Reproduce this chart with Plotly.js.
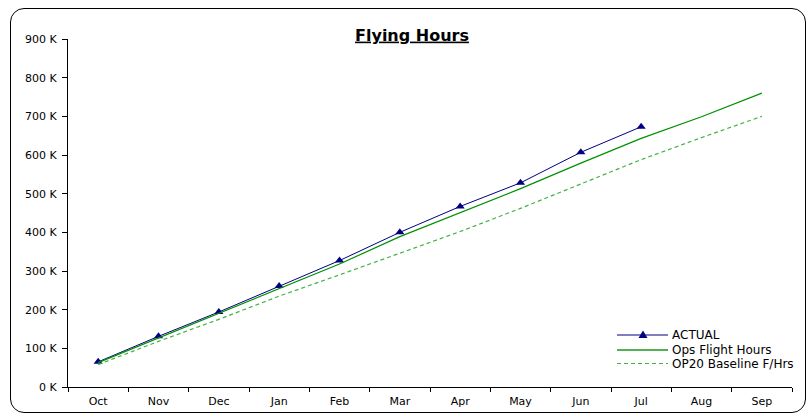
<!DOCTYPE html>
<html><head><meta charset="utf-8">
<script src="https://cdn.plot.ly/plotly-3.0.1.min.js"></script>
<style>
html,body{margin:0;padding:0;background:#fff;}
#wrap{position:relative;width:808px;height:416px;}
#chart{width:808px;height:416px;}
#frame{position:absolute;left:10px;top:8px;width:796px;height:405px;border:1px solid #000;border-radius:14px;pointer-events:none;box-sizing:border-box;}
</style></head>
<body>
<div id="wrap"><div id="chart"></div><div id="frame"></div></div>
<script>
const months = ['Oct','Nov','Dec','Jan','Feb','Mar','Apr','May','Jun','Jul','Aug','Sep'];
const actualMonths = ['Oct','Nov','Dec','Jan','Feb','Mar','Apr','May','Jun','Jul'];
const actual = [65000,131000,194000,261000,327000,400000,467000,528000,607000,673000];
const opsFlightHours = [63000,127000,190000,255000,318000,389000,451000,513000,579000,643000,699000,760000];
const op20Baseline = [58000,118000,175000,235000,290000,345000,402000,462000,524000,588000,645000,700000];
const yTickVals = [0,100000,200000,300000,400000,500000,600000,700000,800000,900000];
const yTickText = ['0 K','100 K','200 K','300 K','400 K','500 K','600 K','700 K','800 K','900 K'];
const seriesNames = ['ACTUAL','Ops Flight Hours','OP20 Baseline F/Hrs'];
const seriesColors = ['#000080','#009000','#44b044'];
const seriesDash = ['solid','solid','4px,3px'];

const FF = '"DejaVu Sans", Verdana, sans-serif';
const font = {family:FF, size:11, color:'#000'};
const traces = [
  {x:actualMonths, y:actual, name:seriesNames[0], type:'scatter', mode:'lines+markers',
   line:{color:seriesColors[0], width:1}, marker:{symbol:'triangle-up', size:8, color:seriesColors[0]}},
  {x:months, y:opsFlightHours, name:seriesNames[1], type:'scatter', mode:'lines',
   line:{color:seriesColors[1], width:1.2}},
  {x:months, y:op20Baseline, name:seriesNames[2], type:'scatter', mode:'lines',
   line:{color:seriesColors[2], width:1.2, dash:seriesDash[2]}}
];

// manual legend (compact like the original)
const L = 68, R = 792, T = 39, B = 387;
const px = v => (v - L) / (R - L);
const py = v => (B - v) / (B - T);
const rowY = [335, 350, 363.5];
const shapes = [], annotations = [];
seriesNames.forEach((n, i) => {
  shapes.push({type:'line', xref:'paper', yref:'paper', x0:px(617), x1:px(668), y0:py(rowY[i]), y1:py(rowY[i]),
               line:{color:i===1?'#55b055':seriesColors[i], width:i===1?2:1, dash:seriesDash[i]}});
  annotations.push({xref:'paper', yref:'paper', x:px(670), y:py(rowY[i]), xanchor:'left', yanchor:'middle',
                    text:n, showarrow:false, font:{family:FF, size:12, color:'#000'}});
});
shapes.push({type:'path', xref:'paper', yref:'paper', xsizemode:'pixel', ysizemode:'pixel',
             xanchor:px(643), yanchor:py(rowY[0]), path:'M -4.5,-3 L 4.5,-3 L 0,4.5 Z',
             fillcolor:seriesColors[0], line:{color:seriesColors[0], width:0}});

const layout = {
  width:808, height:416,
  margin:{l:68, r:16, t:39, b:29},
  paper_bgcolor:'#fff', plot_bgcolor:'#fff',
  font:font,
  title:{text:'<b><u>Flying Hours</u></b>', font:{family:FF, size:16, color:'#000'},
         x:412/808, xanchor:'center', y:1-35/416, yanchor:'middle'},
  showlegend:false,
  shapes:shapes, annotations:annotations,
  xaxis:{type:'category', categoryorder:'array', categoryarray:months, range:[-0.5,11.5],
         showline:true, linecolor:'#000', linewidth:1, showgrid:false, zeroline:false,
         ticks:'outside', ticklen:4, tickcolor:'#000', tickson:'boundaries', tickfont:font, ticklabelstandoff:4},
  yaxis:{range:[0,900000], tickvals:yTickVals, ticktext:yTickText,
         showline:true, linecolor:'#000', linewidth:1, showgrid:false, zeroline:false,
         ticks:'outside', ticklen:5, tickcolor:'#000', tickfont:font, ticklabelstandoff:3}
};
Plotly.newPlot('chart', traces, layout, {displayModeBar:false, staticPlot:true});
</script>
</body></html>
